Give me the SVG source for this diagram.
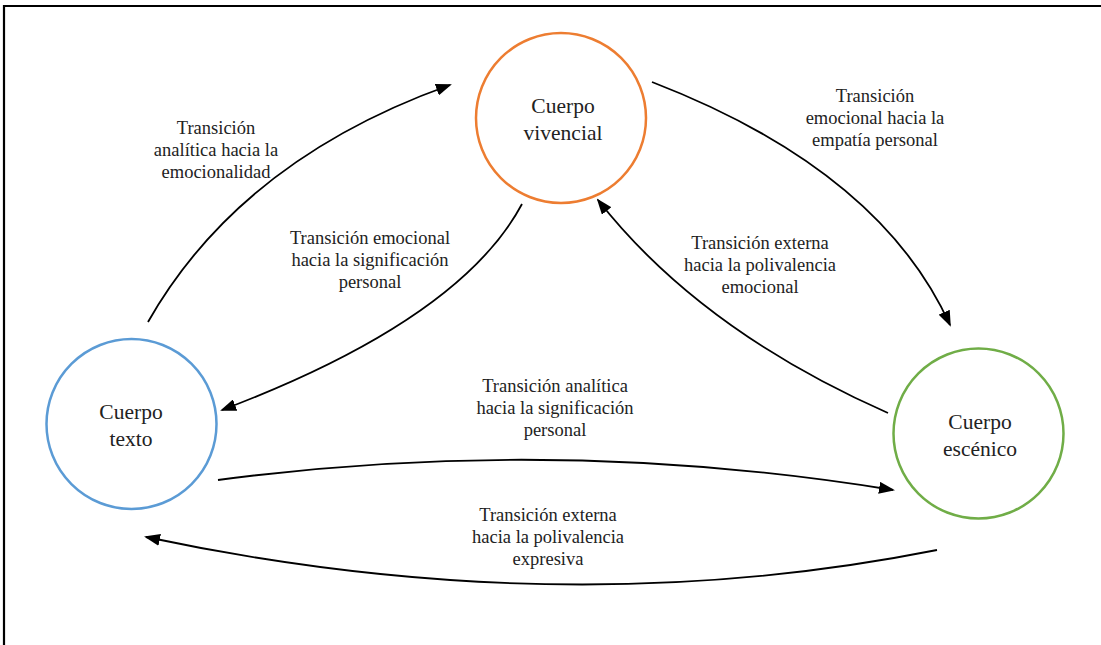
<svg xmlns="http://www.w3.org/2000/svg" width="1101" height="645" viewBox="0 0 1101 645">
<defs>
<style>
.node{fill:#fff;stroke-width:2.5}
.nt{font-size:21.5px;fill:#222;text-anchor:middle}
.lb{font-size:18.5px;fill:#222;text-anchor:middle}
.cn{fill:none;stroke:#000;stroke-width:1.8}
</style>
<marker id="ah" markerWidth="16" markerHeight="12" refX="14" refY="6" orient="auto" markerUnits="userSpaceOnUse">
<path d="M0,0 L16,6 L0,12 Z" fill="#000"/>
</marker>
</defs>
<rect width="1101" height="645" fill="#fff"/>
<path d="M4,645 V6 H1101" fill="none" stroke="#000" stroke-width="2.2"/>
<g id="connectors">
<path class="cn" d="M148,322 Q240,160 450,85" marker-end="url(#ah)"/>
<path class="cn" d="M522,204 Q460,320 222,410" marker-end="url(#ah)"/>
<path class="cn" d="M652,82 Q880,170 950,325" marker-end="url(#ah)"/>
<path class="cn" d="M888,413 Q700,330 598,200" marker-end="url(#ah)"/>
<path class="cn" d="M218,480 Q555,435 893,490" marker-end="url(#ah)"/>
<path class="cn" d="M937,550 Q560,625 146,537" marker-end="url(#ah)"/>
</g>
<g font-family="'Liberation Serif', 'Times New Roman', 'DejaVu Serif', serif">
<g id="node-vivencial">
<circle class="node" cx="561" cy="118" r="85" stroke="#ED7D31"/>
<text class="nt" x="563" y="113">Cuerpo</text>
<text class="nt" x="563" y="140">vivencial</text>
</g>
<g id="node-texto">
<circle class="node" cx="131.5" cy="424" r="85" stroke="#5B9BD5"/>
<text class="nt" x="131" y="419">Cuerpo</text>
<text class="nt" x="131" y="446">texto</text>
</g>
<g id="node-escenico">
<circle class="node" cx="978.5" cy="433.5" r="85" stroke="#70AD47"/>
<text class="nt" x="980" y="429">Cuerpo</text>
<text class="nt" x="980" y="456">escénico</text>
</g>
<g id="labels">
<text class="lb" x="216" y="134">Transición</text>
<text class="lb" x="216" y="156">analítica hacia la</text>
<text class="lb" x="216" y="178">emocionalidad</text>
<text class="lb" x="370" y="244">Transición emocional</text>
<text class="lb" x="370" y="266">hacia la significación</text>
<text class="lb" x="370" y="288">personal</text>
<text class="lb" x="875" y="102">Transición</text>
<text class="lb" x="875" y="124">emocional hacia la</text>
<text class="lb" x="875" y="146">empatía personal</text>
<text class="lb" x="760" y="249">Transición externa</text>
<text class="lb" x="760" y="271">hacia la polivalencia</text>
<text class="lb" x="760" y="293">emocional</text>
<text class="lb" x="555" y="392">Transición analítica</text>
<text class="lb" x="555" y="414">hacia la significación</text>
<text class="lb" x="555" y="436">personal</text>
<text class="lb" x="548" y="521">Transición externa</text>
<text class="lb" x="548" y="543">hacia la polivalencia</text>
<text class="lb" x="548" y="565">expresiva</text>
</g>
</g>
</svg>
